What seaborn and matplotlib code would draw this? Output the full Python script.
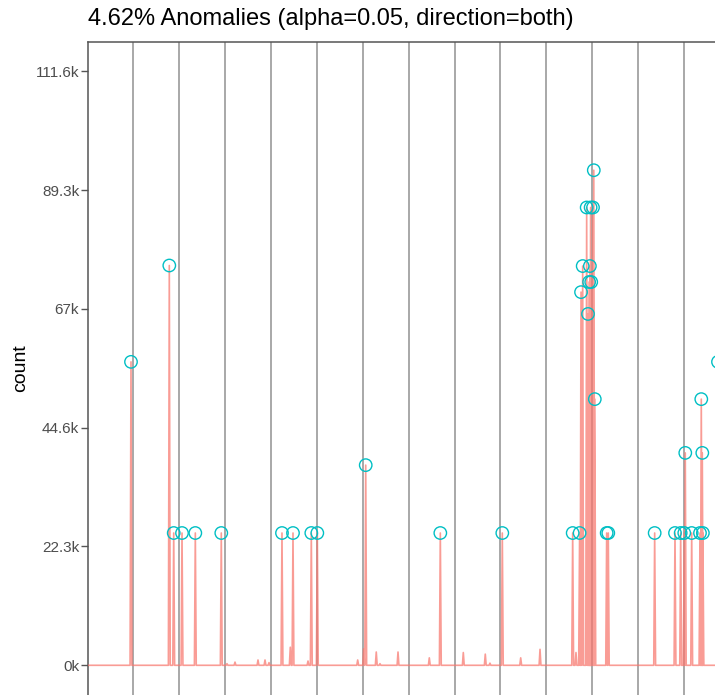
import numpy as np
import pandas as pd
import matplotlib
matplotlib.use("Agg")
import matplotlib.pyplot as plt
import seaborn as sns

# ---- data (x in days from start of panel, y in counts) ----
anom_day = [0.948, 1.783, 1.879, 2.060, 2.350, 2.916, 4.239, 4.479, 4.878, 5.009,
            6.064, 7.690, 9.041, 10.575, 10.726, 10.757, 10.793, 10.880, 10.909,
            10.933, 10.950, 10.966, 10.979, 11.018, 11.035, 11.057, 11.316, 11.351,
            12.362, 12.805, 12.929, 13.007, 13.029, 13.169, 13.350, 13.378, 13.400,
            13.413, 13.742]
anom_count = [57000, 75100, 24850, 24850, 24850, 24850, 24850, 24850, 24850, 24850,
              37600, 24850, 24850, 24850, 24850, 70100, 75000, 86000, 66000,
              72000, 75000, 86000, 72000, 86000, 93000, 50000, 24850, 24850,
              24850, 24850, 24850, 24850, 39900, 24850, 24850, 50000, 39900,
              24850, 57000]
bump_day = [3.040, 3.215, 3.716, 3.869, 3.956, 4.420, 4.806, 5.889, 6.020, 6.294,
            6.375, 6.768, 7.450, 8.191, 8.670, 8.772, 9.442, 9.863, 10.647]
bump_count = [300, 600, 1000, 1000, 500, 3400, 800, 1000, 3100, 2500,
              300, 2500, 1400, 2400, 2100, 400, 1400, 3000, 2400]

y_ticks = [0, 22320, 44640, 66960, 89280, 111600]
y_tick_labels = ["0k", "22.3k", "44.6k", "67k", "89.3k", "111.6k"]
title = "4.62% Anomalies (alpha=0.05, direction=both)"

# ---- build the line: each observation is a narrow spike from the baseline ----
hw = 0.02
pts = sorted(zip(anom_day + bump_day, anom_count + bump_count))
xs, ys = [0.0], [0.0]
for t, v in pts:
    xs += [t - hw, t, t + hw]
    ys += [0, v, 0]
xs.append(15.0)
ys.append(0.0)
line_df = pd.DataFrame({"day": xs, "count": ys})
anom_df = pd.DataFrame({"day": anom_day, "count": anom_count})

sns.set_theme(style="white")
plt.rcParams["font.family"] = ["Liberation Sans", "DejaVu Sans"]

W, H = 715, 695
fig = plt.figure(figsize=(W / 100, H / 100), dpi=100)
left_px, top_px = 87.5, 41.5
day_px = 45.88
ax = fig.add_axes([left_px / W, 0.0, day_px * 15 / W, (H - top_px) / H])

sns.lineplot(data=line_df, x="day", y="count", ax=ax, sort=False, estimator=None,
             color="#F8766D", alpha=0.72, linewidth=1.2, zorder=3)
sns.scatterplot(data=anom_df, x="day", y="count", ax=ax, marker="o", s=80,
                facecolor="none", edgecolor="#00BFC4", linewidth=1.0, zorder=4)

ax.set_xlim(0, 15)
ax.set_ylim(-5580, 117180)
ax.set_xticks(range(1, 15))
ax.set_xticklabels([])
ax.tick_params(axis="x", length=0)
ax.grid(axis="x", color="#a8a8a8", linewidth=1.4)
ax.grid(axis="y", visible=False)
ax.set_axisbelow(True)

ax.set_yticks(y_ticks)
ax.set_yticklabels(y_tick_labels)
ax.tick_params(axis="y", left=True, length=5, width=1, color="#555555",
               labelsize=11, labelcolor="#4d4d4d", pad=1)
ax.set_xlabel("")
ax.set_ylabel("count", fontsize=14, color="black", labelpad=5)

for side in ["left", "top"]:
    ax.spines[side].set_visible(True)
    ax.spines[side].set_color("#555555")
    ax.spines[side].set_linewidth(1.1)
ax.spines["bottom"].set_visible(False)
ax.spines["right"].set_visible(False)

fig.text(left_px / W, 1 - 19 / H, title, fontsize=17, ha="left", va="center",
         color="black")

fig.savefig("out.png", dpi=100)
